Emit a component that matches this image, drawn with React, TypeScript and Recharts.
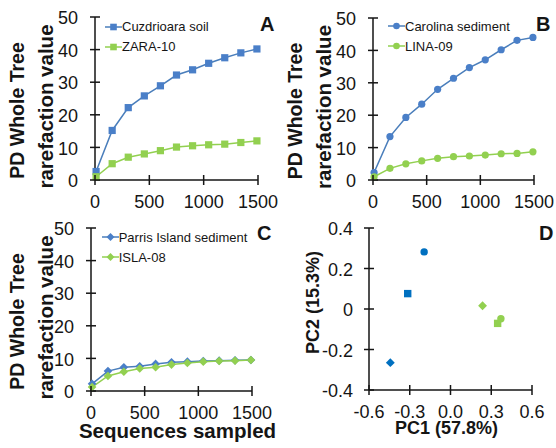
import { Legend, Line, LineChart, Scatter, ScatterChart, XAxis, YAxis } from "recharts";

const FONT = '"Liberation Sans", Arial, Helvetica, sans-serif';
const INK = "#151515";
const BLUE_LINE = "#4a7ebb";
const BLUE_MARK = "#4a7fc8";
const GREEN = "#92d050";
const PCA_BLUE = "#0070c0";

// sequences sampled (x values of the rarefaction curves)
const sequences = [10, 158, 306, 454, 602, 750, 898, 1046, 1194, 1342, 1490];
const cuzdrioara = [2.6, 15.2, 22.2, 25.8, 28.9, 32.2, 33.8, 35.8, 37.5, 39.0, 40.2];
const zara10 = [1.0, 5.0, 7.0, 8.0, 9.0, 10.1, 10.5, 10.8, 11.0, 11.5, 12.0];
const carolina = [2.3, 13.4, 19.3, 23.4, 28.0, 31.4, 34.7, 37.1, 40.2, 43.1, 44.0];
const lina09 = [1.0, 3.6, 5.0, 5.9, 6.7, 7.2, 7.4, 7.7, 8.1, 8.2, 8.7];
const parris = [2.2, 6.1, 7.3, 7.6, 8.3, 8.8, 9.0, 9.2, 9.3, 9.4, 9.5];
const isla08 = [1.2, 4.6, 5.9, 6.9, 7.3, 8.1, 8.6, 9.0, 9.2, 9.3, 9.5];

const seqTicks = [0, 500, 1000, 1500];
const pdTicks = [0, 10, 20, 30, 40, 50];

// PCA (panel D)
const pcaNames = ["Cuzdrioara soil", "Carolina sediment", "Parris Island sediment", "ZARA-10", "LINA-09", "ISLA-08"];
const pc1 = [-0.315, -0.194, -0.443, 0.347, 0.371, 0.236];
const pc2 = [0.076, 0.282, -0.265, -0.071, -0.048, 0.016];
const pcaShapes: Shape[] = ["square", "circle", "diamond", "square", "circle", "diamond"];
const pcaColors = [PCA_BLUE, PCA_BLUE, PCA_BLUE, GREEN, GREEN, GREEN];
const pc1Ticks = [-0.6, -0.3, 0, 0.3, 0.6];
const pc2Ticks = [-0.4, -0.2, 0, 0.2, 0.4];

type Shape = "square" | "circle" | "diamond";

function Marker({ cx, cy, shape, color, r }: { cx: number; cy: number; shape: Shape; color: string; r: number }) {
	if (cx == null || cy == null) return null;
	if (shape === "square") return <rect x={cx - r} y={cy - r} width={2 * r} height={2 * r} fill={color} />;
	if (shape === "circle") return <circle cx={cx} cy={cy} r={r} fill={color} />;
	const d = r * 1.2;
	return <polygon points={`${cx},${cy - d} ${cx + d},${cy} ${cx},${cy + d} ${cx - d},${cy}`} fill={color} />;
}

const Y_GAP = 17;
const X_GAP = 15;
const fmtPc1 = (v: number) => v.toFixed(1);
const fmtPc2 = (v: number) => (Math.abs(v) < 1e-9 ? "0" : v.toFixed(1));

// Excel-style "cross" tick marks: half inside, half outside the plot
const yTick = (gap: number, fmt?: (v: number) => string) => (props: any) => {
	const x = Number(props.x);
	const y = Number(props.y);
	const v = props.payload.value;
	return (
		<g>
			<line x1={x + gap - 5} x2={x + gap + 5} y1={y} y2={y} stroke={INK} strokeWidth={1.5} />
			<text x={x} y={y} dy="0.4em" textAnchor="end" fontSize={18} fontFamily={FONT} fill={INK}>
				{fmt ? fmt(v) : v}
			</text>
		</g>
	);
};

const xTick = (gap: number, fmt?: (v: number) => string) => (props: any) => {
	const x = Number(props.x);
	const y = Number(props.y);
	const v = props.payload.value;
	return (
		<g>
			<line x1={x} x2={x} y1={y - gap - 5} y2={y - gap + 5} stroke={INK} strokeWidth={1.5} />
			<text x={x} y={y} dy="0.72em" textAnchor="middle" fontSize={18} fontFamily={FONT} fill={INK}>
				{fmt ? fmt(v) : v}
			</text>
		</g>
	);
};

const yTitle = (lines: string[], baselines: number[], sizes: number[], shifts: number[]) => (props: any) => {
	const { x, y, height } = props.viewBox;
	return (
		<g>
			{lines.map((t, i) => {
				const cy = y + height / 2 + shifts[i];
				return (
					<text
						key={t}
						x={x + baselines[i]}
						y={cy}
						transform={`rotate(-90 ${x + baselines[i]} ${cy})`}
						textAnchor="middle"
						fontSize={sizes[i]}
						fontWeight="bold"
						fontFamily={FONT}
						fill={INK}
					>
						{t}
					</text>
				);
			})}
		</g>
	);
};

const xTitle = (text: string, size: number, dy: number, dx: number) => (props: any) => {
	const { x, y, width } = props.viewBox;
	return (
		<text x={x + width / 2 + dx} y={y + dy} textAnchor="middle" fontSize={size} fontWeight="bold" fontFamily={FONT} fill={INK}>
			{text}
		</text>
	);
};

type Series = { name: string; values: number[]; shape: Shape };

function LegendBox({ items }: { items: Series[] }) {
	return (
		<div style={{ fontFamily: FONT, fontSize: 13, color: INK }}>
			{items.map((s, i) => {
				const color = i === 0 ? BLUE_MARK : GREEN;
				return (
					<div key={s.name} style={{ height: 20, display: "flex", alignItems: "center", whiteSpace: "nowrap" }}>
						<svg width={17} height={10} style={{ display: "block" }}>
							<line x1={0} x2={17} y1={5} y2={5} stroke={i === 0 ? BLUE_LINE : GREEN} strokeWidth={1.5} />
							<Marker cx={8.5} cy={5} shape={s.shape} color={color} r={3.3} />
						</svg>
						<span>{s.name}</span>
					</div>
				);
			})}
		</div>
	);
}

const AXIS_LINE = { stroke: INK, strokeWidth: 1.5 };

type PanelProps = {
	left: number;
	top: number;
	height: number;
	margin: { top: number; right: number; bottom: number; left: number };
	yWidth: number;
	series: Series[];
	legend: { x: number; y: number };
	showXTitle?: boolean;
};

function RarefactionPanel({ left, top, height, margin, yWidth, series, legend, showXTitle }: PanelProps) {
	const data = sequences.map((s, i) => ({ seq: s, a: series[0].values[i], b: series[1].values[i] }));
	return (
		<div style={{ position: "absolute", left, top }}>
			<LineChart width={278} height={height} data={data} margin={margin}>
				<XAxis
					dataKey="seq"
					type="number"
					domain={[0, 1500]}
					ticks={seqTicks}
					interval={0}
					stroke={INK}
					tickSize={X_GAP}
					tickMargin={0}
					tickLine={false}
					axisLine={AXIS_LINE}
					height={30}
					tick={xTick(X_GAP)}
					label={showXTitle ? xTitle("Sequences sampled", 20.5, 47, 6) : undefined}
				/>
				<YAxis
					type="number"
					domain={[0, 50]}
					ticks={pdTicks}
					interval={0}
					width={yWidth}
					stroke={INK}
					tickSize={Y_GAP}
					tickMargin={0}
					tickLine={false}
					axisLine={AXIS_LINE}
					tick={yTick(Y_GAP)}
					label={yTitle(["PD Whole Tree", "rarefaction value"], [24, 53], [19.5, 20.5], [12, 8])}
				/>
				<Legend
					layout="vertical"
					align="center"
					verticalAlign="middle"
					wrapperStyle={{ left: legend.x, top: legend.y, width: 180 }}
					content={() => <LegendBox items={series} />}
				/>
				<Line
					dataKey="a"
					stroke={BLUE_LINE}
					strokeWidth={1.5}
					isAnimationActive={false}
					dot={(p: any) => <Marker key={`a${p.index}`} cx={p.cx} cy={p.cy} shape={series[0].shape} color={BLUE_MARK} r={3.6} />}
				/>
				<Line
					dataKey="b"
					stroke={GREEN}
					strokeWidth={1.5}
					isAnimationActive={false}
					dot={(p: any) => <Marker key={`b${p.index}`} cx={p.cx} cy={p.cy} shape={series[1].shape} color={GREEN} r={3.6} />}
				/>
			</LineChart>
		</div>
	);
}

function PcaPanel() {
	return (
		<div style={{ position: "absolute", left: 278, top: 218 }}>
			<ScatterChart width={278} height={230} margin={{ top: 10, right: 24, bottom: 28, left: 0 }}>
				<XAxis
					dataKey="x"
					type="number"
					domain={[-0.6, 0.6]}
					ticks={pc1Ticks}
					interval={0}
					stroke={INK}
					tickSize={X_GAP}
					tickMargin={0}
					tickLine={false}
					axisLine={AXIS_LINE}
					height={30}
					tick={xTick(X_GAP, fmtPc1)}
					label={xTitle("PC1 (57.8%)", 18, 44, -4)}
				/>
				<YAxis
					dataKey="y"
					type="number"
					domain={[-0.4, 0.4]}
					ticks={pc2Ticks}
					interval={0}
					width={91}
					stroke={INK}
					tickSize={16}
					tickMargin={0}
					tickLine={false}
					axisLine={AXIS_LINE}
					tick={yTick(16, fmtPc2)}
					label={yTitle(["PC2 (15.3%)"], [41], [18], [-6.5])}
				/>
				{pcaNames.map((n, i) => (
					<Scatter
						key={n}
						name={n}
						data={[{ x: pc1[i], y: pc2[i] }]}
						isAnimationActive={false}
						shape={(p: any) => <Marker cx={p.cx} cy={p.cy} shape={pcaShapes[i]} color={pcaColors[i]} r={3.7} />}
					/>
				))}
			</ScatterChart>
		</div>
	);
}

const letterStyle = (left: number, top: number): React.CSSProperties => ({
	position: "absolute",
	left,
	top,
	fontFamily: FONT,
	fontWeight: "bold",
	fontSize: 20,
	lineHeight: "20px",
	color: INK,
});

export default function App() {
	return (
		<div style={{ position: "absolute", left: 0, top: 0, width: 556, height: 448, background: "#fff", overflow: "hidden" }}>
			<RarefactionPanel
				left={0}
				top={0}
				height={224}
				margin={{ top: 17, right: 20, bottom: 14, left: 0 }}
				yWidth={95}
				series={[
					{ name: "Cuzdrioara soil", values: cuzdrioara, shape: "square" },
					{ name: "ZARA-10", values: zara10, shape: "square" },
				]}
				legend={{ x: 105, y: 16.7 }}
			/>
			<RarefactionPanel
				left={278}
				top={0}
				height={224}
				margin={{ top: 18, right: 22, bottom: 14, left: 0 }}
				yWidth={95}
				series={[
					{ name: "Carolina sediment", values: carolina, shape: "circle" },
					{ name: "LINA-09", values: lina09, shape: "circle" },
				]}
				legend={{ x: 110, y: 16 }}
			/>
			<RarefactionPanel
				left={0}
				top={218}
				height={230}
				margin={{ top: 10, right: 26, bottom: 27, left: 0 }}
				yWidth={91}
				series={[
					{ name: "Parris Island sediment", values: parris, shape: "diamond" },
					{ name: "ISLA-08", values: isla08, shape: "diamond" },
				]}
				legend={{ x: 101.7, y: 9.3 }}
				showXTitle
			/>
			<PcaPanel />
			<div style={letterStyle(260, 14)}>A</div>
			<div style={letterStyle(536, 14)}>B</div>
			<div style={letterStyle(257, 223)}>C</div>
			<div style={letterStyle(539, 223)}>D</div>
		</div>
	);
}
